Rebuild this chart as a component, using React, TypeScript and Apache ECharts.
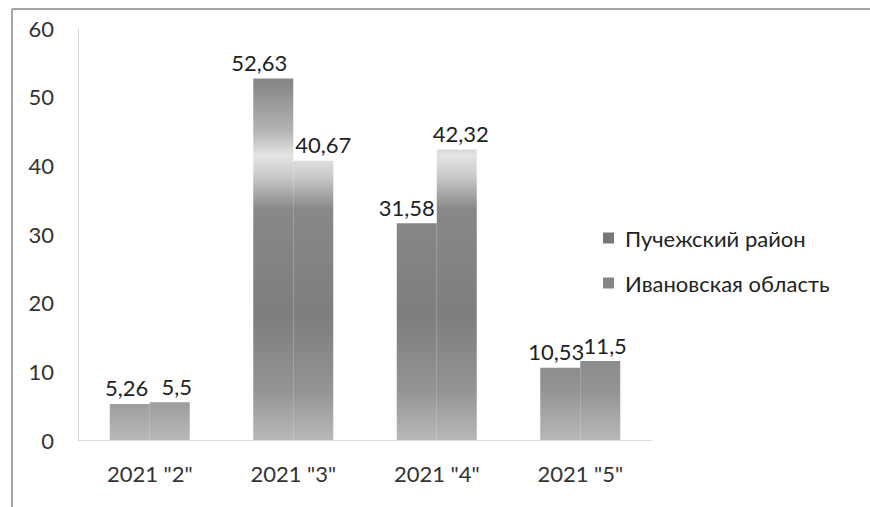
import React, { useEffect, useRef } from "react";
import * as echarts from "echarts";

const categories = ['2021 "2"', '2021 "3"', '2021 "4"', '2021 "5"'];
const seriesNames = ["Пучежский район", "Ивановская область"];
const puchezh = [5.26, 52.63, 31.58, 10.53];
const ivanovo = [5.5, 40.67, 42.32, 11.5];
const yTicks = { min: 0, max: 60, interval: 10 };

// label nudges (style only), as placed in the original spreadsheet chart
const puchezhLabelShift = [-3, -14, -10, -4];
const ivanovoLabelShift = [7, 10, 4, 5];

const fmt = (v: number) => String(v).replace(".", ",");

export default function App() {
  const ref = useRef<HTMLDivElement>(null);
  useEffect(() => {
    if (!ref.current) return;
    const chart = echarts.init(ref.current, null, { renderer: "svg" });
    const grad = new echarts.graphic.LinearGradient(
      0, 28, 0, 440,
      [
        { offset: 0, color: "#848484" },
        { offset: 0.13, color: "#868686" },
        { offset: 0.25, color: "#b4b4b4" },
        { offset: 0.31, color: "#e4e4e4" },
        { offset: 0.36, color: "#cacaca" },
        { offset: 0.44, color: "#888888" },
        { offset: 0.7, color: "#7e7e7e" },
        { offset: 0.88, color: "#949494" },
        { offset: 1, color: "#b8b8b8" },
      ],
      true
    );
    const font = "Lato, 'Open Sans', sans-serif";
    const mk = (name: string, data: number[], shifts: number[]) => ({
      name,
      type: "bar",
      data: data.map((v, i) => ({ value: v, label: { offset: [shifts[i], 0] } })),
      barWidth: 40,
      barGap: "0%",
      itemStyle: { color: grad },
      label: {
        show: true,
        position: "top",
        distance: 5,
        fontSize: 22,
        fontFamily: font,
        color: "#222",
        formatter: (p: any) => fmt(p.value),
      },
    });
    chart.setOption({
      animation: false,
      backgroundColor: "#fff",
      textStyle: { fontFamily: font },
      grid: { left: 78, right: 218, top: 28, bottom: 67 },
      legend: {
        orient: "vertical",
        left: 598,
        top: 222,
        itemWidth: 11,
        itemHeight: 11,
        itemGap: 23,
        icon: "rect",
        textStyle: { fontSize: 22, color: "#222", fontFamily: font, padding: [0, 0, 0, 6] },
        data: [
          { name: seriesNames[0], itemStyle: { color: "#777" } },
          { name: seriesNames[1], itemStyle: { color: "#858585" } },
        ],
      },
      xAxis: {
        type: "category",
        data: categories,
        axisLine: { lineStyle: { color: "#ddd" } },
        axisTick: { show: false },
        axisLabel: { fontSize: 22, color: "#333", margin: 22, fontFamily: font },
      },
      yAxis: {
        type: "value",
        min: yTicks.min,
        max: yTicks.max,
        interval: yTicks.interval,
        axisLine: { show: true, lineStyle: { color: "#ccc", type: "dotted" } },
        axisTick: { show: false },
        splitLine: { show: false },
        axisLabel: { fontSize: 22, color: "#333", margin: 24, fontFamily: font },
      },
      graphic: [
        { type: "line", shape: { x1: 12, y1: 9, x2: 870, y2: 9 }, style: { stroke: "#888", lineWidth: 1.5 } },
        { type: "line", shape: { x1: 12, y1: 9, x2: 12, y2: 507 }, style: { stroke: "#888", lineWidth: 1.5 } },
      ],
      series: [
        mk(seriesNames[0], puchezh, puchezhLabelShift),
        mk(seriesNames[1], ivanovo, ivanovoLabelShift),
      ],
    });
    return () => chart.dispose();
  }, []);
  return (
    <div
      ref={ref}
      style={{ width: 870, height: 507, position: "absolute", left: 0, top: 0 }}
    />
  );
}
